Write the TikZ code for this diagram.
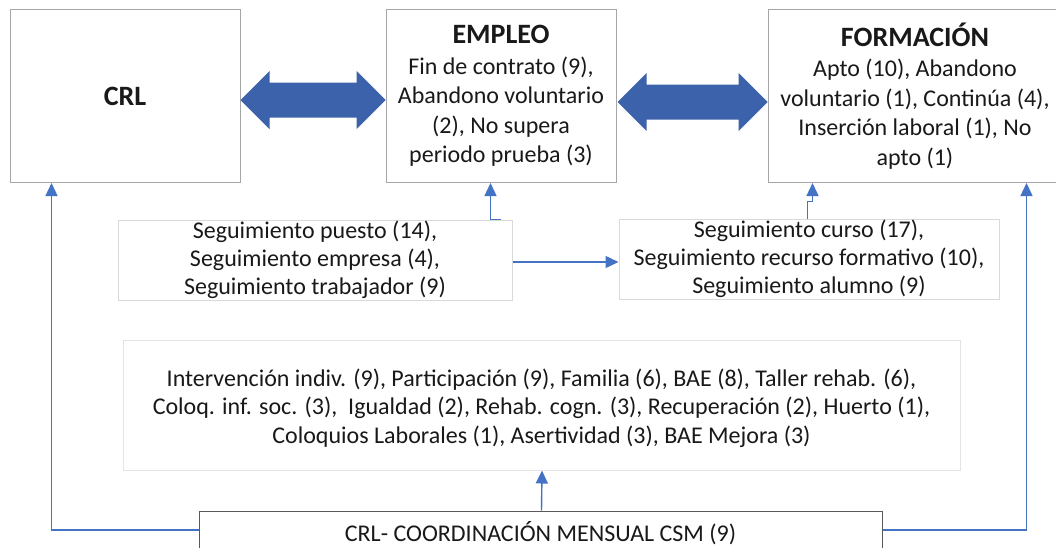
\documentclass[tikz,border=0pt]{standalone}
\usepackage{fontspec}
\setmainfont{Carlito}
\usetikzlibrary{calc,arrows.meta}
\definecolor{conblue}{HTML}{4472C4}
\definecolor{bigblue}{HTML}{3B62AA}
\definecolor{topgray}{HTML}{A6A6A6}
\definecolor{lightgray}{HTML}{D9D9D9}
\definecolor{palegray}{HTML}{E4E4E4}
\definecolor{darkgray}{HTML}{595959}
\newcommand\ttl[1]{{\fontsize{28}{30}\selectfont\bfseries #1}}
\tikzset{
  basebox/.style={rectangle, inner sep=0pt, align=center, text={black!90},
    font=\fontsize{24}{29.5}\selectfont, line width=1pt},
  topbox/.style={basebox, draw=topgray, minimum height=173pt},
  segbox/.style={basebox, draw=lightgray, minimum height=80pt,
    font=\fontsize{24}{28}\selectfont},
  ivbox/.style={basebox, draw=palegray, font=\fontsize{24}{28.5}\selectfont},
  csmbox/.style={basebox, draw=darkgray},
  conn/.style={draw=conblue, line width=1.4pt, -{Triangle[width=12pt,length=13pt]}},
  bigarrow/.style={fill=bigblue}
}
\newcommand\dblarr[2]{%
  \fill[bigarrow] (#1) -- ($(#1)+(29,-29)$) -- ($(#1)+(29,-17.5)$)
    -- ($(#2)+(-29,-17.5)$) -- ($(#2)+(-29,-29)$) -- (#2)
    -- ($(#2)+(-29,29)$) -- ($(#2)+(-29,17.5)$) -- ($(#1)+(29,17.5)$)
    -- ($(#1)+(29,29)$) -- cycle;}
\begin{document}
\begin{tikzpicture}[x=1pt,y=-1pt]
\useasboundingbox[fill=white] (0,0) rectangle (1056,547);

\node[topbox, minimum width=230pt] (crl) at (125,96) {\ttl{CRL}};
\node[topbox, minimum width=230pt] (emp) at (501,96)
  {\ttl{EMPLEO}\\[1pt]Fin de contrato (9),\\Abandono voluntario\\(2), No supera\\periodo prueba (3)};
\node[topbox, minimum width=294pt] (form) at (915,96)
  {\ttl{FORMACIÓN}\\[1pt]Apto (10), Abandono\\voluntario (1), Continúa (4),\\Inserción laboral (1), No\\apto (1)};

\node[segbox, minimum width=394pt] (sp) at (315,260)
  {Seguimiento puesto (14),\\Seguimiento empresa (4),\\Seguimiento trabajador (9)};
\node[segbox, minimum width=380pt] (sc) at (809,259)
  {Seguimiento curso (17),\\Seguimiento recurso formativo (10),\\Seguimiento alumno (9)};

\node[ivbox, minimum width=837pt, minimum height=130pt] (iv) at (541.5,405)
  {\parbox{837pt}{\centering\vspace*{6pt}%
   Intervención indiv. (9), Participación (9), Familia (6), BAE (8), Taller rehab. (6),\\
   Coloq. inf. soc. (3),~ Igualdad (2), Rehab. cogn. (3), Recuperación (2), Huerto (1),\\
   Coloquios Laborales (1), Asertividad (3), BAE Mejora (3)}};

\node[csmbox, minimum width=683pt, minimum height=45pt] (csm) at (540.5,533.5)
  {CRL- COORDINACIÓN MENSUAL CSM (9)};

% block double arrows
\coordinate (a1L) at ($(crl.east)+(0,4)$);
\coordinate (a1R) at ($(emp.west)+(0,4)$);
\dblarr{a1L}{a1R}
\coordinate (a2L) at ($(emp.east)+(1,6)$);
\coordinate (a2R) at ($(form.west)+(0,6)$);
\dblarr{a2L}{a2R}

% connectors
\draw[conn] ([yshift=3.5pt]csm.west) -| ($(crl.south west)+(42,0)$);
\draw[conn] ([yshift=3.5pt]csm.east) -| ($(form.south west)+(259,0)$);
\draw[conn] ($(csm.north)+(1,0)$) -- ($(iv.south)+(0.5,0)$);
\draw[conn] ($(sp.north east)+(-12,0)$) -| ($(emp.south west)+(105,0)$);
\draw[conn] ($(sc.north west)+(189,0)$) -- ++(0,-17) -| ($(form.south west)+(45,0)$);
\draw[conn] ([yshift=-2pt]sp.east) -- ([yshift=-2pt]sp.east -| sc.west);
\end{tikzpicture}
\end{document}
